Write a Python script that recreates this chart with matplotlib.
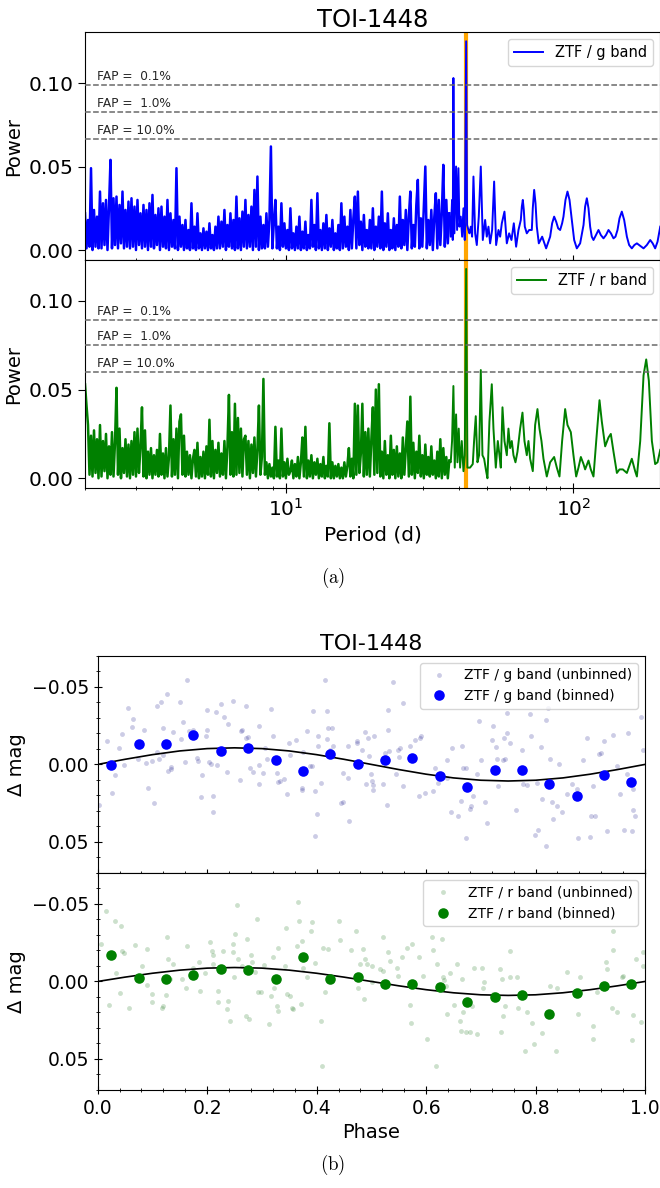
import numpy as np
import matplotlib.pyplot as plt
from matplotlib.ticker import MultipleLocator

# ---------------- (a) periodograms ----------------
# dense part (2 - 37 d), power in 1e-3, on a log-spaced period grid
g_dense = [22, 1, 18, 2, 49, 0, 24, 2, 20, 1,
           35, 1, 28, 3, 30, 0, 26, 54, 1, 31,
           3, 32, 1, 27, 4, 35, 1, 24, 2, 29,
           1, 31, 2, 26, 0, 30, 3, 22, 1, 27,
           2, 24, 0, 28, 2, 33, 1, 21, 3, 25,
           0, 26, 2, 20, 1, 30, 0, 22, 2, 18,
           1, 49, 0, 20, 2, 15, 0, 18, 1, 12,
           0, 28, 1, 14, 0, 22, 1, 10, 0, 13,
           1, 11, 0, 16, 1, 9, 0, 14, 1, 20,
           1, 17, 2, 24, 0, 15, 2, 22, 1, 18,
           0, 32, 1, 19, 0, 23, 2, 30, 1, 21,
           2, 26, 0, 36, 2, 44, 0, 20, 1, 15,
           1, 22, 2, 18, 62, 1, 17, 30, 1, 14,
           0, 28, 2, 16, 1, 12, 0, 25, 1, 10,
           0, 14, 1, 20, 0, 11, 1, 17, 0, 9,
           1, 30, 2, 15, 0, 34, 1, 12, 0, 16,
           1, 21, 0, 13, 2, 18, 0, 10, 1, 15,
           0, 28, 1, 20, 2, 14, 0, 24, 1, 19,
           32, 1, 35, 3, 17, 0, 21, 2, 12, 1,
           18, 1, 25, 0, 14, 2, 20, 1, 35, 0,
           16, 2, 22, 0, 12, 1, 19, 0, 15, 2,
           32, 1, 18, 3, 24, 0, 20, 35, 1, 15,
           2, 27, 42, 1, 19, 2, 26, 50, 1, 18,
           3, 24, 0, 20, 34, 1, 30, 3, 22, 51,
           2, 30, 4, 22]

r_dense = [53, 41, 30, 2, 24, 1, 27, 3, 22, 0,
           30, 1, 21, 4, 25, 0, 18, 2, 26, 1,
           20, 51, 2, 28, 0, 17, 3, 22, 1, 19,
           0, 21, 2, 26, 1, 28, 3, 18, 40, 1,
           27, 0, 15, 2, 17, 0, 13, 2, 16, 1,
           25, 2, 14, 0, 17, 1, 12, 41, 1, 22,
           2, 28, 0, 32, 36, 2, 24, 1, 15, 2,
           13, 0, 11, 16, 1, 20, 0, 12, 1, 15,
           0, 18, 2, 33, 1, 21, 0, 16, 3, 20,
           1, 14, 2, 21, 0, 18, 47, 2, 26, 1,
           42, 2, 34, 3, 28, 1, 22, 24, 2, 21,
           0, 19, 3, 23, 1, 16, 41, 2, 12, 56,
           2, 9, 0, 8, 1, 6, 0, 29, 1, 10,
           0, 28, 1, 9, 0, 11, 2, 4, 10, 0,
           8, 1, 12, 0, 9, 23, 1, 29, 0, 10,
           1, 13, 0, 9, 2, 11, 0, 8, 1, 12,
           0, 7, 1, 31, 0, 9, 0, 7, 1, 8,
           0, 6, 0, 9, 1, 7, 17, 1, 11, 0,
           42, 2, 41, 3, 14, 42, 1, 26, 2, 28,
           1, 22, 40, 2, 50, 3, 53, 1, 15, 0,
           21, 2, 13, 0, 24, 2, 16, 0, 18, 1,
           14, 0, 23, 2, 17, 32, 1, 46, 2, 20,
           0, 15, 3, 24, 1, 13, 0, 19, 2, 12,
           1, 18, 2, 10, 0, 15, 1, 22, 0, 17,
           2, 12, 0, 10]

# long-period part: (period [d], power [1e-3])
g_long = [(37.0, 22), (37.42, 8), (37.82, 30), (38.03, 6), (38.23, 103), (38.54, 10), (39.06, 50),
          (39.38, 12), (39.80, 49), (40.12, 14), (40.55, 20), (41.0, 8), (41.44, 25),
          (41.88, 6), (42.34, 125), (42.66, 15), (43.12, 12), (43.46, 10), (43.95, 14),
          (44.41, 8), (44.89, 44), (45.50, 10), (46.11, 3), (46.85, 20), (47.61, 50),
          (48.38, 6), (49.29, 18), (49.95, 8), (50.63, 14), (51.30, 4), (52.13, 12),
          (52.98, 41), (53.83, 3), (54.85, 12), (55.59, 8), (56.34, 16), (57.55, 23),
          (58.64, 4), (59.75, 10), (60.87, 6), (62.02, 16), (63.18, 2), (64.38, 12),
          (65.60, 18), (66.13, 26), (66.66, 30), (67.19, 24), (67.73, 14), (68.82, 10),
          (70.12, 12), (71.64, 12), (72.2, 25), (73.0, 36), (73.8, 28), (74.57, 14),
          (75.77, 4), (77.83, 8), (80.34, 1), (82.97, 8), (84.3, 16), (85.67, 20),
          (87.06, 17), (88.47, 13), (89.88, 12), (91.32, 16), (92.31, 20), (93.81, 30),
          (95.33, 35), (96.9, 30), (98.70, 18), (100.57, 6), (102.73, 1), (105.5, 4),
          (108.4, 15), (109.8, 26), (111.3, 31), (112.8, 25), (114.3, 14), (115.8, 8),
          (117.4, 6), (119.8, 9), (122.2, 12), (124.5, 9), (127.2, 7), (129.8, 9),
          (132.4, 12), (135.0, 10), (137.8, 7), (140.0, 8), (142.3, 12), (144.6, 19),
          (147.3, 23), (150.1, 18), (153.4, 8), (156.2, 3), (159.6, 1), (162.9, 3),
          (166.2, 4), (170.7, 2.5), (175.3, 1), (180.0, 3), (184.9, 6), (188.6, 4),
          (192.4, 1), (196.1, 5), (200.4, 14)]

r_long = [(37.0, 10), (37.42, 9), (37.82, 21), (38.23, 52), (38.65, 6), (39.06, 36), (39.48, 9),
          (39.90, 28), (40.34, 6), (40.88, 21), (41.44, 4), (41.88, 13), (42.34, 118),
          (42.77, 6), (43.69, 6), (44.64, 8), (45.12, 21), (45.73, 35), (46.35, 9),
          (46.97, 13), (47.61, 61), (48.25, 13), (48.90, 11), (49.69, 4), (50.22, 0),
          (51.02, 32), (51.99, 53), (52.69, 28), (53.69, 6), (54.56, 21), (55.29, 13),
          (55.88, 6), (56.64, 40), (57.55, 21), (58.64, 13), (59.42, 28), (60.22, 17),
          (61.03, 21), (61.85, 13), (62.85, 9), (63.87, 15), (65.25, 28), (66.48, 37),
          (67.55, 21), (68.82, 13), (69.74, 21), (70.68, 11), (72.2, 4), (73.57, 30),
          (74.96, 39), (76.17, 28), (77.40, 21), (78.65, 11), (80.77, 1), (82.97, 9),
          (85.67, 12), (87.53, 6), (89.41, 1), (91.32, 21), (93.56, 39), (95.33, 30),
          (97.91, 26), (100.0, 13), (102.2, 1), (104.1, 6), (106.1, 12), (108.4, 8),
          (109.8, 5), (112.8, 10), (114.9, 5), (117.4, 1), (120.0, 21), (123.2, 44),
          (125.5, 32), (128.9, 18), (132.4, 23), (134.9, 25), (137.8, 15), (141.6, 3),
          (144.6, 5), (148.5, 5), (153.4, 3), (159.6, 11), (163.9, 4), (166.2, 1),
          (170.7, 21), (175.3, 58), (179.1, 67), (182.9, 55), (187.4, 21), (192.4, 8),
          (196.1, 9), (200.4, 16)]

fap_pct = [0.1, 1.0, 10.0]
g_fap = [0.0988, 0.0828, 0.0663]
r_fap = [0.0890, 0.0749, 0.0597]
p_rot = 42.34

# ---------------- (b) phase folded ----------------
g_raw = [(0.0024, 0.0261), (0.0177, -0.0154), (0.0256, 0.0186), (0.0317, 0.0068), (0.0390, -0.0107),
         (0.0438, -0.0199), (0.0487, 0.0006), (0.0560, -0.0363), (0.0639, -0.0293), (0.0627, -0.0241),
         (0.0731, -0.0032), (0.0853, -0.0224), (0.0883, -0.0011), (0.0920, 0.0150), (0.0987, -0.0021),
         (0.1023, 0.0248), (0.1078, -0.0378), (0.1090, -0.0079), (0.1121, -0.0032), (0.1163, -0.0400),
         (0.1200, -0.0235), (0.1200, -0.0058), (0.1261, -0.0455), (0.1291, 0.0043), (0.1334, 0.0028),
         (0.1346, 0.0017), (0.1370, -0.0207), (0.1504, -0.0402), (0.1516, -0.0165), (0.1553, -0.0274),
         (0.1596, -0.0015), (0.1626, -0.0545), (0.1663, -0.0216), (0.1748, -0.0224), (0.1809, -0.0043),
         (0.1839, -0.0021), (0.1882, 0.0209), (0.1900, 0.0071), (0.1979, -0.0182), (0.1991, -0.0353),
         (0.1991, -0.0224), (0.2040, -0.0015), (0.2065, 0.0000), (0.2113, 0.0203), (0.2113, 0.0306),
         (0.2156, -0.0335), (0.2186, 0.0006), (0.2247, -0.0389), (0.2308, -0.0306), (0.2357, 0.0049),
         (0.2387, -0.0263), (0.2479, -0.0410), (0.2600, 0.0100), (0.2613, -0.0218), (0.2643, -0.0224),
         (0.2704, -0.0378), (0.2710, -0.0173), (0.2753, -0.0175), (0.2783, 0.0021), (0.2844, 0.0049),
         (0.2954, -0.0250), (0.2954, 0.0004), (0.2954, 0.0128), (0.3015, 0.0058), (0.3057, -0.0107),
         (0.3088, -0.0036), (0.3161, -0.0359), (0.3197, -0.0182), (0.3270, 0.0053), (0.3301, 0.0111),
         (0.3331, 0.0105), (0.3404, 0.0092), (0.3453, 0.0192), (0.3490, -0.0139), (0.3514, -0.0060),
         (0.3618, -0.0160), (0.3727, 0.0165), (0.3740, 0.0150), (0.3745, -0.0081), (0.3819, -0.0216),
         (0.3879, 0.0011), (0.3910, 0.0011), (0.3940, -0.0342), (0.3971, 0.0171), (0.4001, 0.0323),
         (0.3971, 0.0464), (0.4019, -0.0118), (0.4032, -0.0182), (0.4086, 0.0118), (0.4153, -0.0545),
         (0.4184, -0.0165), (0.4196, -0.0342), (0.4214, -0.0235), (0.4245, -0.0096), (0.4275, -0.0235),
         (0.4305, -0.0118), (0.4476, 0.0058), (0.4567, 0.0085), (0.4488, 0.0241), (0.4598, 0.0363),
         (0.4445, 0.0250), (0.4580, -0.0122), (0.4732, -0.0139), (0.4744, -0.0150), (0.4823, -0.0092),
         (0.4884, -0.0207), (0.4902, 0.0128), (0.4945, -0.0171), (0.4963, -0.0053), (0.4988, 0.0064),
         (0.5006, 0.0107), (0.5036, 0.0165), (0.5024, 0.0132), (0.5055, -0.0182), (0.5207, 0.0128),
         (0.5280, 0.0263), (0.5310, -0.0353), (0.5310, -0.0224), (0.5250, -0.0075), (0.5329, -0.0085),
         (0.5402, -0.0534), (0.5451, 0.0064), (0.5493, -0.0096), (0.5512, -0.0049), (0.5524, -0.0107),
         (0.5585, -0.0395), (0.5585, 0.0139), (0.5706, -0.0122), (0.5798, -0.0156), (0.5889, -0.0171),
         (0.5877, 0.0203), (0.5907, -0.0186), (0.5980, 0.0182), (0.6133, 0.0171), (0.6163, 0.0021),
         (0.6224, 0.0118), (0.6376, -0.0028), (0.6388, 0.0085), (0.6455, 0.0310), (0.6480, -0.0107),
         (0.6589, 0.0331), (0.6638, 0.0233), (0.6662, -0.0118), (0.6680, 0.0021), (0.6723, 0.0021),
         (0.6729, 0.0474), (0.6802, 0.0288), (0.6827, 0.0271), (0.6863, 0.0203), (0.6924, 0.0064),
         (0.6973, -0.0282), (0.7003, -0.0028), (0.7076, 0.0241), (0.7107, 0.0378), (0.7198, -0.0160),
         (0.7229, -0.0246), (0.7277, -0.0113), (0.7289, -0.0032), (0.7320, 0.0139), (0.7399, -0.0028),
         (0.7423, -0.0169), (0.7442, -0.0032), (0.7472, -0.0331), (0.7472, -0.0203), (0.7533, -0.0139),
         (0.7643, 0.0293), (0.7746, -0.0096), (0.7765, 0.0124), (0.7850, 0.0130), (0.7899, -0.0325),
         (0.7911, -0.0186), (0.7990, 0.0455), (0.8021, 0.0122), (0.8051, 0.0421), (0.8094, -0.0113),
         (0.8112, 0.0224), (0.8185, -0.0288), (0.8191, 0.0524), (0.8234, -0.0363), (0.8264, -0.0032),
         (0.8295, 0.0241), (0.8313, 0.0353), (0.8386, 0.0267), (0.8435, 0.0000), (0.8490, 0.0310),
         (0.8581, 0.0192), (0.8660, 0.0128), (0.8751, 0.0160), (0.8782, 0.0476), (0.8873, -0.0028),
         (0.8934, -0.0171), (0.8995, 0.0470), (0.9007, 0.0335), (0.9056, 0.0139), (0.9086, 0.0335),
         (0.9165, -0.0064), (0.9190, -0.0075), (0.9251, -0.0150), (0.9312, 0.0429), (0.9421, -0.0192),
         (0.9482, 0.0011), (0.9543, 0.0192), (0.9616, 0.0421), (0.9665, 0.0064), (0.9695, -0.0203),
         (0.9757, 0.0427), (0.9775, 0.0293), (0.9787, 0.0160), (0.9818, 0.0331), (0.9921, -0.0306),
         (0.9970, -0.0096)]

r_raw = [(0.0061, -0.0241), (0.0152, -0.0456), (0.0213, 0.0153), (0.0317, -0.0391), (0.0335, -0.0054),
         (0.0420, -0.0355), (0.0408, 0.0075), (0.0438, -0.0198), (0.0481, -0.0183), (0.0579, 0.0168),
         (0.0682, -0.0234), (0.0804, -0.0101), (0.0895, -0.0209), (0.0907, 0.0024), (0.0987, 0.0135),
         (0.0995, 0.0082), (0.1169, 0.0174), (0.1200, 0.0157), (0.1242, 0.0088), (0.1261, -0.0284),
         (0.1291, -0.0144), (0.1322, -0.0015), (0.1382, -0.0112), (0.1535, -0.0015), (0.1614, 0.0039),
         (0.1626, -0.0226), (0.1748, -0.0090), (0.1857, -0.0123), (0.1870, 0.0060), (0.1961, -0.0054),
         (0.2052, -0.0252), (0.2083, -0.0198), (0.2113, -0.0170), (0.2113, -0.0112), (0.2205, 0.0060),
         (0.2205, 0.0135), (0.2296, -0.0198), (0.2357, 0.0178), (0.2387, 0.0125), (0.2418, 0.0254),
         (0.2479, -0.0241), (0.2479, -0.0187), (0.2497, -0.0026), (0.2509, -0.0305), (0.2540, -0.0492),
         (0.2570, -0.0144), (0.2631, -0.0101), (0.2710, 0.0222), (0.2735, -0.0273), (0.2771, 0.0243),
         (0.2801, -0.0170), (0.2826, -0.0123), (0.2875, -0.0058), (0.2905, -0.0402), (0.2935, 0.0071),
         (0.2978, 0.0067), (0.3039, -0.0105), (0.3136, 0.0275), (0.3161, 0.0092), (0.3197, -0.0161),
         (0.3222, 0.0039), (0.3270, 0.0157), (0.3289, 0.0189), (0.3301, -0.0219), (0.3423, -0.0101),
         (0.3441, -0.0342), (0.3465, 0.0082), (0.3514, 0.0092), (0.3544, 0.0174), (0.3563, 0.0178),
         (0.3648, -0.0226), (0.3666, -0.0510), (0.3685, -0.0391), (0.3709, 0.0146), (0.3727, -0.0262),
         (0.3758, -0.0090), (0.3819, -0.0032), (0.3892, -0.0327), (0.3910, -0.0381), (0.3971, -0.0118),
         (0.4074, 0.0254), (0.4093, 0.0544), (0.4111, -0.0219), (0.4153, 0.0071), (0.4214, -0.0209),
         (0.4415, -0.0391), (0.4430, -0.0269), (0.4622, -0.0204), (0.4719, -0.0327), (0.4854, -0.0209),
         (0.4884, -0.0148), (0.4927, -0.0112), (0.5006, -0.0101), (0.4793, -0.0112), (0.5020, 0.0006),
         (0.4762, 0.0039), (0.4860, 0.0114), (0.5158, -0.0080), (0.5219, -0.0069), (0.5207, -0.0284),
         (0.5310, -0.0191), (0.5341, -0.0133), (0.5463, -0.0090), (0.5493, -0.0037), (0.5554, -0.0155),
         (0.5658, -0.0213), (0.5706, 0.0153), (0.5720, 0.0265), (0.5737, -0.0241), (0.5877, -0.0161),
         (0.5950, -0.0037), (0.6011, 0.0368), (0.6102, -0.0284), (0.6121, -0.0204), (0.6181, 0.0544),
         (0.6194, -0.0112), (0.6285, -0.0273), (0.6315, -0.0026), (0.6327, -0.0011), (0.6364, 0.0028),
         (0.6376, 0.0211), (0.6437, -0.0054), (0.6510, 0.0153), (0.6559, -0.0112), (0.6620, 0.0254),
         (0.6632, 0.0318), (0.6650, -0.0015), (0.6681, 0.0200), (0.6723, 0.0329), (0.6802, 0.0329),
         (0.6833, 0.0157), (0.6875, -0.0084), (0.6924, 0.0340), (0.7016, -0.0084), (0.7046, 0.0039),
         (0.7058, 0.0006), (0.7229, 0.0082), (0.7351, -0.0080), (0.7360, 0.0325), (0.7381, -0.0019),
         (0.7411, 0.0222), (0.7442, 0.0157), (0.7533, -0.0198), (0.7540, -0.0026), (0.7655, -0.0026),
         (0.7686, 0.0168), (0.7807, 0.0447), (0.7838, 0.0200), (0.7929, 0.0265), (0.7972, 0.0404),
         (0.8118, 0.0333), (0.8264, 0.0032), (0.8386, 0.0039), (0.8368, 0.0447), (0.8581, -0.0058),
         (0.8782, 0.0211), (0.8812, -0.0026), (0.9044, 0.0286), (0.9056, 0.0372), (0.9117, 0.0071),
         (0.9190, 0.0028), (0.9288, -0.0123), (0.9300, -0.0080), (0.9391, 0.0168), (0.9409, -0.0204),
         (0.9421, -0.0327), (0.9495, 0.0200), (0.9574, -0.0032), (0.9604, -0.0037), (0.9775, 0.0217),
         (0.9757, 0.0376), (0.9836, -0.0148), (0.9921, 0.0260), (0.9958, -0.0187), (0.9965, -0.0101)]

bin_phase = [0.025, 0.075, 0.125, 0.175, 0.225, 0.275, 0.325, 0.375, 0.425, 0.475,
             0.525, 0.575, 0.625, 0.675, 0.725, 0.775, 0.825, 0.875, 0.925, 0.975]
g_bin = [0.0006, -0.0133, -0.0130, -0.0192, -0.0085, -0.0105, -0.0030, 0.0043, -0.0068, -0.0004,
         -0.0028, -0.0043, 0.0075, 0.0145, 0.0038, 0.0034, 0.0124, 0.0205, 0.0066, 0.0111]
r_bin = [-0.0172, -0.0023, -0.0013, -0.0041, -0.0081, -0.0071, -0.0015, -0.0157, -0.0019, -0.0032,
         0.0019, 0.0019, 0.0035, 0.0131, 0.0099, 0.0090, 0.0207, 0.0077, 0.0032, 0.0017]

# sinusoid model, phase steps of 0.05 (mag in 1e-3)
model_phase = np.arange(21) * 0.05
g_model = [0, -3.3, -6.3, -8.7, -10.2, -10.7, -10.2, -8.7, -6.3, -3.3, 0,
           3.3, 6.3, 8.7, 10.2, 10.7, 10.2, 8.7, 6.3, 3.3, 0]
r_model = [0, -2.8, -5.3, -7.3, -8.6, -9.0, -8.6, -7.3, -5.3, -2.8, 0,
           2.8, 5.3, 7.3, 8.6, 9.0, 8.6, 7.3, 5.3, 2.8, 0]


fig = plt.figure(figsize=(6.6, 11.88), dpi=100)

ax1 = fig.add_axes([0.1288, 0.7811, 0.8712, 0.1919])
ax2 = fig.add_axes([0.1288, 0.5892, 0.8712, 0.1919], sharex=ax1)

panels = [(ax1, g_dense, g_long, g_fap, 'blue', 'ZTF / g band', (-0.006, 0.1305)),
          (ax2, r_dense, r_long, r_fap, 'green', 'ZTF / r band', (-0.0055, 0.123))]
for ax, dense, long, faps, col, lab, ylim in panels:
    ax.axvline(p_rot, color='orange', lw=3, zorder=1)
    # short periods: very dense forest of peaks
    ax.plot(np.geomspace(2.0, 37.0, len(dense)), np.array(dense) / 1000.0,
            color=col, lw=1.8, zorder=2)
    ax.plot([p for p, _ in long], [v / 1000.0 for _, v in long],
            color=col, lw=1.4, label=lab, zorder=2)
    for pct, lev in zip(fap_pct, faps):
        ax.axhline(lev, color='dimgray', ls='--', lw=1.1, zorder=3)
        ax.annotate(f'FAP = {pct:4.1f}%', xy=(2.2, lev), xytext=(0, 1.5),
                    textcoords='offset points', fontsize=8.7, va='bottom', color='0.15')
    ax.set_xscale('log')
    ax.set_xlim(2, 200)
    ax.set_ylim(*ylim)
    ax.set_yticks([0.0, 0.05, 0.10])
    ax.set_ylabel('Power', fontsize=14)
    ax.tick_params(axis='both', labelsize=14.5)
    ax.tick_params(axis='x', which='major', direction='inout', length=7)
    ax.tick_params(axis='x', which='minor', direction='inout', length=3.5)
    ax.tick_params(axis='y', length=5)
    ax.legend(loc='upper right', fontsize=10.5)

ax1.tick_params(labelbottom=False)
ax1.set_title('TOI-1448', fontsize=17.5, pad=4)
ax2.set_xlabel('Period (d)', fontsize=14.5)

ax3 = fig.add_axes([0.148, 0.2652, 0.8293, 0.1827])
ax4 = fig.add_axes([0.148, 0.0825, 0.8293, 0.1827], sharex=ax3)

phase_panels = [(ax3, g_raw, g_bin, g_model, 'navy', 'blue', 'g'),
                (ax4, r_raw, r_bin, r_model, 'darkgreen', 'green', 'r')]
for ax, raw, binned, model, rawcol, col, band in phase_panels:
    ph = [p for p, _ in raw]
    mg = [m for _, m in raw]
    ax.plot(ph, mg, 'o', color=rawcol, alpha=0.2, ms=3.5, mew=0,
            label=f'ZTF / {band} band (unbinned)')
    ax.plot(model_phase, np.array(model) / 1000.0, color='k', lw=1.2)
    ax.plot(bin_phase, binned, 'o', color=col, ms=7.6, mew=0,
            label=f'ZTF / {band} band (binned)')
    ax.set_xlim(0, 1)
    ax.set_ylim(0.07, -0.07)
    ax.yaxis.set_major_locator(MultipleLocator(0.05))
    ax.yaxis.set_minor_locator(MultipleLocator(0.01))
    ax.xaxis.set_major_locator(MultipleLocator(0.2))
    ax.xaxis.set_minor_locator(MultipleLocator(0.04))
    ax.tick_params(axis='both', which='major', direction='inout', length=5.5, labelsize=13.5)
    ax.tick_params(axis='both', which='minor', direction='inout', length=3)
    ax.set_ylabel('Δ mag', fontsize=14)
    ax.legend(loc='upper right', fontsize=10)

ax3.tick_params(labelbottom=False)
ax3.set_title('TOI-1448', fontsize=16, pad=4)
ax4.set_xlabel('Phase', fontsize=14)

fig.text(0.5045, 1 - 578 / 1188, r'$\mathrm{(a)}$', ha='center', va='center',
         fontsize=13.5, math_fontfamily='cm')
fig.text(0.5045, 1 - 1165 / 1188, r'$\mathrm{(b)}$', ha='center', va='center',
         fontsize=13.5, math_fontfamily='cm')

fig.savefig('out.png', dpi=100)
